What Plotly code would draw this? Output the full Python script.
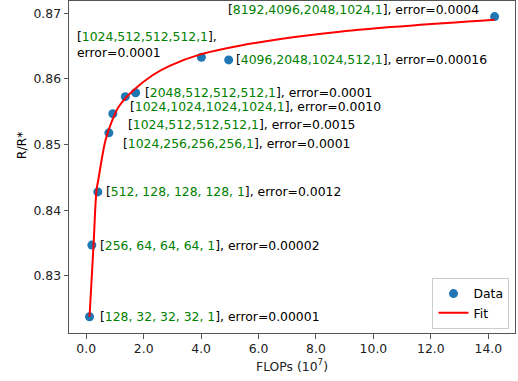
import plotly.graph_objects as go

# ---- data ----
flops = [0.115, 0.195, 0.404, 0.788, 0.927, 1.36, 1.72, 4.01, 4.96, 14.22]
ratio = [0.8238, 0.8347, 0.8428, 0.8518, 0.8547, 0.8573, 0.8579, 0.8633, 0.8629, 0.8695]
configs = ["128, 32, 32, 32, 1", "256, 64, 64, 64, 1", "512, 128, 128, 128, 1",
           "1024,256,256,256,1", "1024,512,512,512,1", "1024,1024,1024,1024,1",
           "2048,512,512,512,1", "1024,512,512,512,1", "4096,2048,1024,512,1",
           "8192,4096,2048,1024,1"]
errors = ["0.00001", "0.00002", "0.0012", "0.0001", "0.0015", "0.0010",
          "0.0001", "0.0001", "0.00016", "0.0004"]

fit_x = [0.115, 0.254, 0.359, 0.418, 0.673, 0.871, 1.136, 1.624, 2.321, 2.903,
         3.949, 6.04, 8.83, 14.22]
fit_y = [0.8238, 0.8347, 0.8431, 0.8446, 0.8507, 0.8533, 0.8558, 0.8582, 0.8606,
         0.8620, 0.8637, 0.8656, 0.8672, 0.8690]

x_ticks = [0, 2, 4, 6, 8, 10, 12, 14]
y_ticks = [0.83, 0.84, 0.85, 0.86, 0.87]

# ---- layout of the labels (pixel offsets from the point; 'wrap' = two lines) ----
label_offsets = [(8, 0, "left", False), (6, 0, "left", False), (6, 0, "left", False),
                 (12.4, -10.6, "left", False), (13.4, -10.3, "left", False),
                 (2.3, -10, "left", False), (7.3, 0, "left", False),
                 (-126, 12.8, "left", True), (5.7, 0, "left", False),
                 (-14, 6.7, "right", False)]

FONT = "DejaVu Sans"
FS = 12.4
GREEN = "#008000"

fig = go.Figure()
fig.add_trace(go.Scatter(x=flops, y=ratio, mode="markers", name="Data",
                         marker=dict(color="#1f77b4", size=9, line=dict(width=0))))
fig.add_trace(go.Scatter(x=fit_x, y=fit_y, mode="lines", name="Fit",
                         line=dict(color="red", width=2, shape="spline", smoothing=1.0)))

annotations = []
for i, (xv, yv) in enumerate(zip(flops, ratio)):
    cfg = f'[<span style="color:{GREEN}">{configs[i]}</span>]'
    dx, dy, anc, wrap = label_offsets[i]
    sep = ",<br>" if wrap else ", "
    annotations.append(dict(x=xv, y=yv, xref="x", yref="y", showarrow=False,
                            text=f"{cfg}{sep}error={errors[i]}", xanchor=anc,
                            yanchor="middle", align="left",
                            xshift=dx, yshift=dy,
                            font=dict(family=FONT, size=FS, color="black")))

annotations.append(dict(x=-0.1073, y=0.566, xref="paper", yref="paper", showarrow=False,
                        text="R/R*", textangle=-90, xanchor="center", yanchor="middle",
                        font=dict(family=FONT, size=FS, color="black")))

axis_common = dict(showline=True, mirror=True, linecolor="#555", linewidth=1,
                   showgrid=False, zeroline=False, ticks="outside", ticklen=4.5,
                   tickcolor="#555", automargin=False,
                   tickfont=dict(family=FONT, size=FS, color="#222"))

fig.update_layout(
    width=518, height=381,
    margin=dict(l=69, r=3, t=1, b=48),
    paper_bgcolor="white", plot_bgcolor="white",
    font=dict(family=FONT, size=FS, color="black"),
    xaxis=dict(range=[-0.6, 14.93], tickvals=x_ticks, tickformat=".1f",
               title=dict(text="FLOPs (10<sup>7</sup>)", standoff=6,
                          font=dict(family=FONT, size=FS, color="#222")),
               **axis_common),
    yaxis=dict(range=[0.82132, 0.87187], tickvals=y_ticks, tickformat=".2f",
               **axis_common),
    legend=dict(x=0.815, y=0.012, xanchor="left", yanchor="bottom",
                bgcolor="rgba(255,255,255,0.8)", bordercolor="#ccc", borderwidth=1,
                font=dict(family=FONT, size=FS, color="black"),
                itemwidth=30, tracegroupgap=0),
    annotations=annotations,
    showlegend=True,
)

fig.write_html("out.html", config={"displayModeBar": False},
               post_script="document.body.style.margin='0';document.body.style.padding='0';")
